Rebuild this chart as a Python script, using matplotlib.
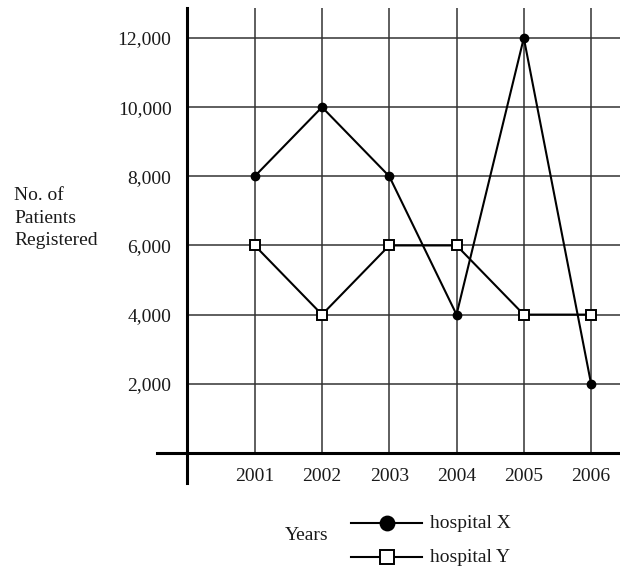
import matplotlib
matplotlib.use("Agg")
import matplotlib.pyplot as plt
from matplotlib.lines import Line2D

years = [2001, 2002, 2003, 2004, 2005, 2006]
hospital_x = [8000, 10000, 8000, 4000, 12000, 2000]
hospital_y = [6000, 4000, 6000, 6000, 4000, 4000]
y_ticks = [2000, 4000, 6000, 8000, 10000, 12000]
y_tick_labels = ["2,000", "4,000", "6,000", "8,000", "10,000", "12,000"]
x_tick_labels = ["2001", "2002", "2003", "2004", "2005", "2006"]

plt.rcParams['font.family'] = ['Liberation Serif', 'DejaVu Serif']
FS = 14
TXT = '#1a1a1a'
GRID = '#333333'

W, H = 620, 566
fig = plt.figure(figsize=(W / 100, H / 100), dpi=100)
ax = fig.add_axes([157 / W, (H - 483) / H, (W - 157) / W, (483 - 8) / H])

xmin, xmax = 1999.547, 2006.43
ymin, ymax = -870, 12867
ax.set_xlim(xmin, xmax)
ax.set_ylim(ymin, ymax)

# grid
ax.hlines(y_ticks, 2000, xmax, colors=GRID, lw=1.1, zorder=1)
ax.vlines(years, 0, ymax, colors=GRID, lw=1.1, zorder=1)

# spines as axes through origin
for s in ['top', 'right']:
    ax.spines[s].set_visible(False)
ax.spines['left'].set_position(('data', 2000))
ax.spines['bottom'].set_position(('data', 0))
for s in ['left', 'bottom']:
    ax.spines[s].set_linewidth(2.2)
    ax.spines[s].set_color('black')
    ax.spines[s].set_zorder(2)

ax.set_xticks(years)
ax.set_xticklabels(x_tick_labels)
ax.set_yticks(y_ticks)
ax.set_yticklabels(y_tick_labels)
ax.tick_params(axis='both', length=0, labelsize=FS, labelcolor=TXT)
ax.tick_params(axis='y', pad=11.5)
ax.tick_params(axis='x', pad=11)

# data
ax.plot(years, hospital_x, color='black', lw=1.5, marker='o', ms=6,
        mfc='black', mec='black', zorder=3, clip_on=False)
ax.plot(years, hospital_y, color='black', lw=1.5, marker='s', ms=7,
        mfc='white', mec='black', mew=1.4, zorder=4, clip_on=False)

# y label
fig.text(14 / W, 1 - 218 / H, "No. of\nPatients\nRegistered", ha='left',
         va='center', fontsize=FS, color=TXT, linespacing=1.4)

# x label + legend
fig.text(307 / W, 1 - 536 / H, "Years", ha='center', va='center',
         fontsize=FS, color=TXT)

def fx(px):
    return px / W

def fy(py):
    return 1 - py / H

for py, lab, mk, mfc, ms in [(523, "hospital X", 'o', 'black', 10),
                             (557, "hospital Y", 's', 'white', 10.5)]:
    fig.add_artist(Line2D([fx(351), fx(422)], [fy(py), fy(py)],
                          transform=fig.transFigure, color='black', lw=1.5))
    fig.add_artist(Line2D([fx(386.5)], [fy(py)], transform=fig.transFigure,
                          marker=mk, ms=ms, mfc=mfc, mec='black', mew=1.4,
                          linestyle='none'))
    fig.text(fx(430), fy(py), lab, ha='left', va='center', fontsize=FS,
             color=TXT)

fig.savefig("out.png", dpi=100)
